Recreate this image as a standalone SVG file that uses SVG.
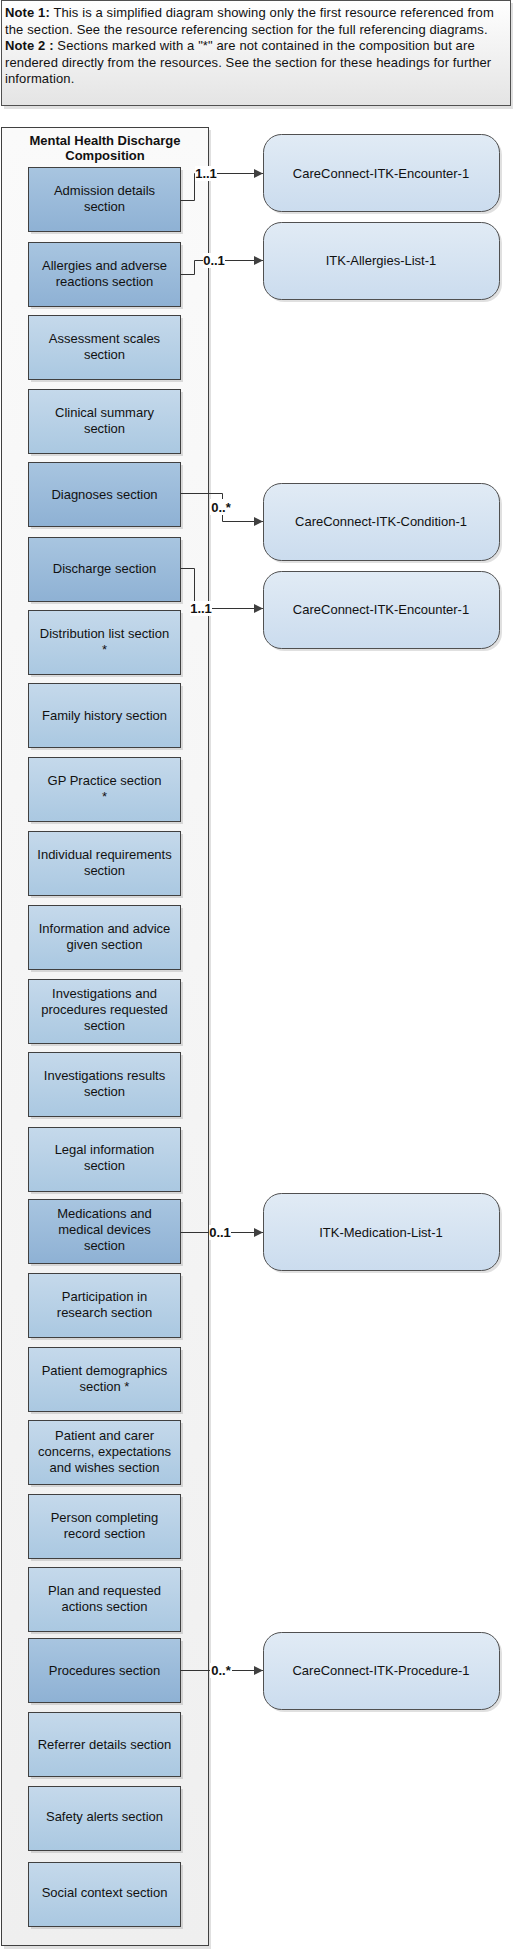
<svg xmlns="http://www.w3.org/2000/svg" width="513" height="1949" viewBox="0 0 513 1949">
<defs>
<linearGradient id="gNote" x1="0" y1="0" x2="0" y2="1"><stop offset="0" stop-color="#ffffff"/><stop offset="1" stop-color="#e4e4e4"/></linearGradient>
<linearGradient id="gCont" x1="0" y1="0" x2="0" y2="1"><stop offset="0" stop-color="#fafafa"/><stop offset="1" stop-color="#efefef"/></linearGradient>
<linearGradient id="gDark" x1="0" y1="0" x2="0" y2="1"><stop offset="0" stop-color="#a8c5e0"/><stop offset="1" stop-color="#8eb1d4"/></linearGradient>
<linearGradient id="gLight" x1="0" y1="0" x2="0" y2="1"><stop offset="0" stop-color="#c5d9eb"/><stop offset="1" stop-color="#aac8e1"/></linearGradient>
<linearGradient id="gTarget" x1="0" y1="0" x2="0" y2="1"><stop offset="0" stop-color="#e1ebf5"/><stop offset="1" stop-color="#cbdcee"/></linearGradient>
<marker id="arr" markerWidth="10" markerHeight="10" refX="9" refY="4.5" orient="auto" markerUnits="userSpaceOnUse"><path d="M0,0 L9,4.5 L0,9 Z" fill="#404040"/></marker>
</defs>
<style>
text{font-family:"Liberation Sans",Arial,sans-serif;font-size:13px;fill:#111;}
.c{text-anchor:middle;}
.b{font-weight:bold;}
.n{letter-spacing:0.12px;}
.shadow{fill:#000;opacity:0.12;}
.sec{stroke:#404040;stroke-width:1;}
.dark{fill:url(#gDark);}
.light{fill:url(#gLight);}
.tgt{fill:url(#gTarget);stroke:#505050;stroke-width:1;}
.conn{fill:none;stroke:#333;stroke-width:1;}
.lbl{fill:#fff;}
</style>

<g id="note">
<rect class="shadow" x="4" y="3" width="509" height="106"/>
<rect x="1.5" y="0.5" width="509" height="105" fill="url(#gNote)" stroke="#505050"/>
<text class="n" x="5" y="17"><tspan class="b">Note 1:</tspan> This is a simplified diagram showing only the first resource referenced from</text>
<text class="n" x="5" y="33.5">the section. See the resource referencing section for the full referencing diagrams.</text>
<text class="n" x="5" y="50"><tspan class="b">Note 2 :</tspan> Sections marked with a "*" are not contained in the composition but are</text>
<text class="n" x="5" y="66.5">rendered directly from the resources. See the section for these headings for further</text>
<text class="n" x="5" y="83">information.</text>
</g>

<g id="composition">
<rect class="shadow" x="4" y="130" width="207" height="1819"/>
<rect x="1.5" y="127.5" width="207" height="1818" fill="url(#gCont)" stroke="#404040"/>
<text class="c b" x="105" y="145">Mental Health Discharge</text>
<text class="c b" x="105" y="160">Composition</text>
</g>

<g id="s-admission"><rect class="shadow" x="31" y="170" width="152" height="64"/><rect class="sec dark" x="28.5" y="167.5" width="152" height="64"/><text class="c" x="104.5" y="195">Admission details</text><text class="c" x="104.5" y="211">section</text></g>
<g id="s-allergies"><rect class="shadow" x="31" y="245" width="152" height="64"/><rect class="sec dark" x="28.5" y="242.5" width="152" height="64"/><text class="c" x="104.5" y="270">Allergies and adverse</text><text class="c" x="104.5" y="286">reactions section</text></g>
<g id="s-assessment"><rect class="shadow" x="31" y="318" width="152" height="64"/><rect class="sec light" x="28.5" y="315.5" width="152" height="64"/><text class="c" x="104.5" y="343">Assessment scales</text><text class="c" x="104.5" y="359">section</text></g>
<g id="s-clinical"><rect class="shadow" x="31" y="392" width="152" height="64"/><rect class="sec light" x="28.5" y="389.5" width="152" height="64"/><text class="c" x="104.5" y="417">Clinical summary</text><text class="c" x="104.5" y="433">section</text></g>
<g id="s-diagnoses"><rect class="shadow" x="31" y="465" width="152" height="64"/><rect class="sec dark" x="28.5" y="462.5" width="152" height="64"/><text class="c" x="104.5" y="499">Diagnoses section</text></g>
<g id="s-discharge"><rect class="shadow" x="31" y="540" width="152" height="64"/><rect class="sec dark" x="28.5" y="537.5" width="152" height="64"/><text class="c" x="104.5" y="573">Discharge section</text></g>
<g id="s-distribution"><rect class="shadow" x="31" y="613" width="152" height="64"/><rect class="sec light" x="28.5" y="610.5" width="152" height="64"/><text class="c" x="104.5" y="638">Distribution list section</text><text class="c" x="104.5" y="654">*</text></g>
<g id="s-family"><rect class="shadow" x="31" y="686" width="152" height="64"/><rect class="sec light" x="28.5" y="683.5" width="152" height="64"/><text class="c" x="104.5" y="720">Family history section</text></g>
<g id="s-gp"><rect class="shadow" x="31" y="760" width="152" height="64"/><rect class="sec light" x="28.5" y="757.5" width="152" height="64"/><text class="c" x="104.5" y="785">GP Practice section</text><text class="c" x="104.5" y="801">*</text></g>
<g id="s-individual"><rect class="shadow" x="31" y="834" width="152" height="64"/><rect class="sec light" x="28.5" y="831.5" width="152" height="64"/><text class="c" x="104.5" y="859">Individual requirements</text><text class="c" x="104.5" y="875">section</text></g>
<g id="s-information"><rect class="shadow" x="31" y="908" width="152" height="64"/><rect class="sec light" x="28.5" y="905.5" width="152" height="64"/><text class="c" x="104.5" y="933">Information and advice</text><text class="c" x="104.5" y="949">given section</text></g>
<g id="s-investreq"><rect class="shadow" x="31" y="982" width="152" height="64"/><rect class="sec light" x="28.5" y="979.5" width="152" height="64"/><text class="c" x="104.5" y="998">Investigations and</text><text class="c" x="104.5" y="1014">procedures requested</text><text class="c" x="104.5" y="1030">section</text></g>
<g id="s-investres"><rect class="shadow" x="31" y="1055" width="152" height="64"/><rect class="sec light" x="28.5" y="1052.5" width="152" height="64"/><text class="c" x="104.5" y="1080">Investigations results</text><text class="c" x="104.5" y="1096">section</text></g>
<g id="s-legal"><rect class="shadow" x="31" y="1130" width="152" height="64"/><rect class="sec light" x="28.5" y="1127.5" width="152" height="64"/><text class="c" x="104.5" y="1154">Legal information</text><text class="c" x="104.5" y="1170">section</text></g>
<g id="s-medications"><rect class="shadow" x="31" y="1202" width="152" height="64"/><rect class="sec dark" x="28.5" y="1199.5" width="152" height="64"/><text class="c" x="104.5" y="1218">Medications and</text><text class="c" x="104.5" y="1234">medical devices</text><text class="c" x="104.5" y="1250">section</text></g>
<g id="s-participation"><rect class="shadow" x="31" y="1276" width="152" height="64"/><rect class="sec light" x="28.5" y="1273.5" width="152" height="64"/><text class="c" x="104.5" y="1301">Participation in</text><text class="c" x="104.5" y="1317">research section</text></g>
<g id="s-demographics"><rect class="shadow" x="31" y="1350" width="152" height="64"/><rect class="sec light" x="28.5" y="1347.5" width="152" height="64"/><text class="c" x="104.5" y="1375">Patient demographics</text><text class="c" x="104.5" y="1391">section *</text></g>
<g id="s-concerns"><rect class="shadow" x="31" y="1423" width="152" height="64"/><rect class="sec light" x="28.5" y="1420.5" width="152" height="64"/><text class="c" x="104.5" y="1440">Patient and carer</text><text class="c" x="104.5" y="1456">concerns, expectations</text><text class="c" x="104.5" y="1472">and wishes section</text></g>
<g id="s-person"><rect class="shadow" x="31" y="1497" width="152" height="64"/><rect class="sec light" x="28.5" y="1494.5" width="152" height="64"/><text class="c" x="104.5" y="1522">Person completing</text><text class="c" x="104.5" y="1538">record section</text></g>
<g id="s-plan"><rect class="shadow" x="31" y="1570" width="152" height="64"/><rect class="sec light" x="28.5" y="1567.5" width="152" height="64"/><text class="c" x="104.5" y="1595">Plan and requested</text><text class="c" x="104.5" y="1611">actions section</text></g>
<g id="s-procedures"><rect class="shadow" x="31" y="1641" width="152" height="64"/><rect class="sec dark" x="28.5" y="1638.5" width="152" height="64"/><text class="c" x="104.5" y="1675">Procedures section</text></g>
<g id="s-referrer"><rect class="shadow" x="31" y="1715" width="152" height="64"/><rect class="sec light" x="28.5" y="1712.5" width="152" height="64"/><text class="c" x="104.5" y="1749">Referrer details section</text></g>
<g id="s-safety"><rect class="shadow" x="31" y="1789" width="152" height="64"/><rect class="sec light" x="28.5" y="1786.5" width="152" height="64"/><text class="c" x="104.5" y="1821">Safety alerts section</text></g>
<g id="s-social"><rect class="shadow" x="31" y="1865" width="152" height="64"/><rect class="sec light" x="28.5" y="1862.5" width="152" height="64"/><text class="c" x="104.5" y="1897">Social context section</text></g>

<g id="t-encounter1"><rect class="shadow" x="266" y="137" width="236" height="77" rx="18"/><rect class="tgt" x="263.5" y="134.5" width="236" height="77" rx="18"/><text class="c" x="381" y="178">CareConnect-ITK-Encounter-1</text></g>
<g id="t-allergies"><rect class="shadow" x="266" y="225" width="236" height="77" rx="18"/><rect class="tgt" x="263.5" y="222.5" width="236" height="77" rx="18"/><text class="c" x="381" y="265">ITK-Allergies-List-1</text></g>
<g id="t-condition"><rect class="shadow" x="266" y="486" width="236" height="77" rx="18"/><rect class="tgt" x="263.5" y="483.5" width="236" height="77" rx="18"/><text class="c" x="381" y="526">CareConnect-ITK-Condition-1</text></g>
<g id="t-encounter2"><rect class="shadow" x="266" y="574" width="236" height="77" rx="18"/><rect class="tgt" x="263.5" y="571.5" width="236" height="77" rx="18"/><text class="c" x="381" y="614">CareConnect-ITK-Encounter-1</text></g>
<g id="t-medication"><rect class="shadow" x="266" y="1196" width="236" height="77" rx="18"/><rect class="tgt" x="263.5" y="1193.5" width="236" height="77" rx="18"/><text class="c" x="381" y="1237">ITK-Medication-List-1</text></g>
<g id="t-procedure"><rect class="shadow" x="266" y="1635" width="236" height="77" rx="18"/><rect class="tgt" x="263.5" y="1632.5" width="236" height="77" rx="18"/><text class="c" x="381" y="1675">CareConnect-ITK-Procedure-1</text></g>

<g id="connectors">
<path class="conn" d="M180.5,200.5 H194.5 V173.5 H263" marker-end="url(#arr)"/>
<path class="conn" d="M180.5,274.5 H194.5 V260.5 H263" marker-end="url(#arr)"/>
<path class="conn" d="M180.5,493.5 H222.5 V521.5 H263" marker-end="url(#arr)"/>
<path class="conn" d="M180.5,568.5 H194.5 V608.5 H263" marker-end="url(#arr)"/>
<path class="conn" d="M180.5,1232.5 H263" marker-end="url(#arr)"/>
<path class="conn" d="M180.5,1670.5 H263" marker-end="url(#arr)"/>
<rect class="lbl" x="195" y="166" width="22" height="15"/><text class="c b" x="206" y="178">1..1</text>
<rect class="lbl" x="203" y="253" width="22" height="15"/><text class="c b" x="214" y="265">0..1</text>
<rect class="lbl" x="210" y="499" width="22" height="16"/><text class="c b" x="221" y="512">0..*</text>
<rect class="lbl" x="190" y="601" width="22" height="15"/><text class="c b" x="201" y="613">1..1</text>
<rect class="lbl" x="209" y="1225" width="22" height="15"/><text class="c b" x="220" y="1237">0..1</text>
<rect class="lbl" x="210" y="1663" width="22" height="15"/><text class="c b" x="221" y="1675">0..*</text>
</g>
</svg>
